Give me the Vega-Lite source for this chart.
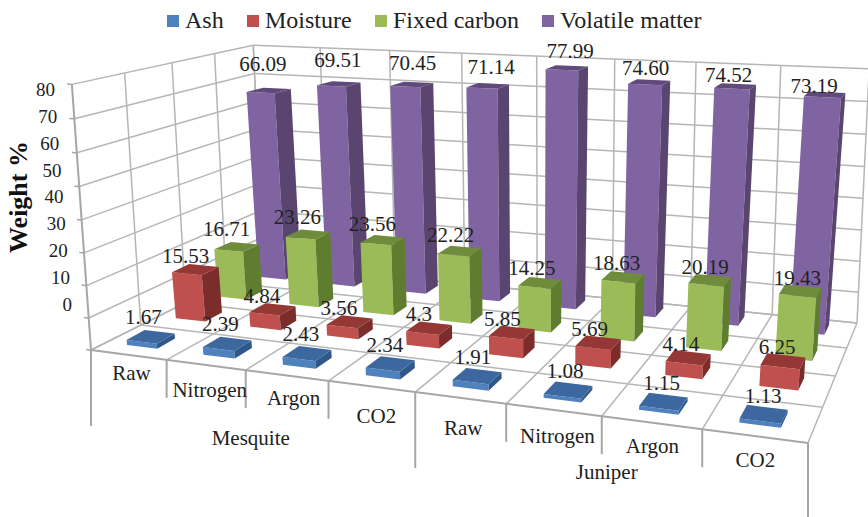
{
  "$schema": "https://vega.github.io/schema/vega-lite/v6.json",
  "width": 868,
  "height": 517,
  "padding": 0,
  "autosize": {"type": "none"},
  "background": "white",
  "config": {"view": {"stroke": null}},
  "datasets": {
    "composition": [
      {"group": "Mesquite", "sample": "Raw", "component": "Volatile matter", "value": 66.09, "label": "66.09"},
      {"group": "Mesquite", "sample": "Nitrogen", "component": "Volatile matter", "value": 69.51, "label": "69.51"},
      {"group": "Mesquite", "sample": "Argon", "component": "Volatile matter", "value": 70.45, "label": "70.45"},
      {"group": "Mesquite", "sample": "CO2", "component": "Volatile matter", "value": 71.14, "label": "71.14"},
      {"group": "Juniper", "sample": "Raw", "component": "Volatile matter", "value": 77.99, "label": "77.99"},
      {"group": "Juniper", "sample": "Nitrogen", "component": "Volatile matter", "value": 74.6, "label": "74.60"},
      {"group": "Juniper", "sample": "Argon", "component": "Volatile matter", "value": 74.52, "label": "74.52"},
      {"group": "Juniper", "sample": "CO2", "component": "Volatile matter", "value": 73.19, "label": "73.19"},
      {"group": "Mesquite", "sample": "Raw", "component": "Fixed carbon", "value": 16.71, "label": "16.71"},
      {"group": "Mesquite", "sample": "Nitrogen", "component": "Fixed carbon", "value": 23.26, "label": "23.26"},
      {"group": "Mesquite", "sample": "Argon", "component": "Fixed carbon", "value": 23.56, "label": "23.56"},
      {"group": "Mesquite", "sample": "CO2", "component": "Fixed carbon", "value": 22.22, "label": "22.22"},
      {"group": "Juniper", "sample": "Raw", "component": "Fixed carbon", "value": 14.25, "label": "14.25"},
      {"group": "Juniper", "sample": "Nitrogen", "component": "Fixed carbon", "value": 18.63, "label": "18.63"},
      {"group": "Juniper", "sample": "Argon", "component": "Fixed carbon", "value": 20.19, "label": "20.19"},
      {"group": "Juniper", "sample": "CO2", "component": "Fixed carbon", "value": 19.43, "label": "19.43"},
      {"group": "Mesquite", "sample": "Raw", "component": "Moisture", "value": 15.53, "label": "15.53"},
      {"group": "Mesquite", "sample": "Nitrogen", "component": "Moisture", "value": 4.84, "label": "4.84"},
      {"group": "Mesquite", "sample": "Argon", "component": "Moisture", "value": 3.56, "label": "3.56"},
      {"group": "Mesquite", "sample": "CO2", "component": "Moisture", "value": 4.3, "label": "4.3"},
      {"group": "Juniper", "sample": "Raw", "component": "Moisture", "value": 5.85, "label": "5.85"},
      {"group": "Juniper", "sample": "Nitrogen", "component": "Moisture", "value": 5.69, "label": "5.69"},
      {"group": "Juniper", "sample": "Argon", "component": "Moisture", "value": 4.14, "label": "4.14"},
      {"group": "Juniper", "sample": "CO2", "component": "Moisture", "value": 6.25, "label": "6.25"},
      {"group": "Mesquite", "sample": "Raw", "component": "Ash", "value": 1.67, "label": "1.67"},
      {"group": "Mesquite", "sample": "Nitrogen", "component": "Ash", "value": 2.39, "label": "2.39"},
      {"group": "Mesquite", "sample": "Argon", "component": "Ash", "value": 2.43, "label": "2.43"},
      {"group": "Mesquite", "sample": "CO2", "component": "Ash", "value": 2.34, "label": "2.34"},
      {"group": "Juniper", "sample": "Raw", "component": "Ash", "value": 1.91, "label": "1.91"},
      {"group": "Juniper", "sample": "Nitrogen", "component": "Ash", "value": 1.08, "label": "1.08"},
      {"group": "Juniper", "sample": "Argon", "component": "Ash", "value": 1.15, "label": "1.15"},
      {"group": "Juniper", "sample": "CO2", "component": "Ash", "value": 1.13, "label": "1.13"}
    ],
    "frame": [
      {"family": "levelLeft", "ns": [0, 1, 2, 3, 4, 5, 6, 7, 8]},
      {"family": "levelBack", "ns": [0, 1, 2, 3, 4, 5, 6, 7, 8]},
      {"family": "uprightBack", "ns": [0, 1, 2, 3, 4, 5, 6, 7, 8]},
      {"family": "uprightLeft", "ns": [1, 2, 3, 4]},
      {"family": "depth", "ns": [0, 1, 2, 3, 4, 5, 6, 7, 8]},
      {"family": "across", "ns": [1, 2, 3, 4]},
      {"family": "stub", "ns": [0, 1, 2, 3, 4, 5, 6, 7, 8]},
      {"family": "axisLeft", "ns": [0]},
      {"family": "axisFront", "ns": [0]},
      {"family": "drop", "ns": [0, 1, 2, 3, 4, 5, 6, 7, 8]}
    ],
    "ticks": [
      {"tick": 0}, {"tick": 10}, {"tick": 20}, {"tick": 30}, {"tick": 40},
      {"tick": 50}, {"tick": 60}, {"tick": 70}, {"tick": 80}
    ],
    "categories": [
      {"slot": 0, "name": "Raw"}, {"slot": 1, "name": "Nitrogen"},
      {"slot": 2, "name": "Argon"}, {"slot": 3, "name": "CO2"},
      {"slot": 4, "name": "Raw"}, {"slot": 5, "name": "Nitrogen"},
      {"slot": 6, "name": "Argon"}, {"slot": 7, "name": "CO2"}
    ],
    "groups": [
      {"slot": 1.5, "name": "Mesquite"},
      {"slot": 5.5, "name": "Juniper"}
    ],
    "title": [{"name": "Weight %"}]
  },
  "layer": [
    {
      "data": {"name": "frame"},
      "transform": [
        {"flatten": ["ns"], "as": ["n"]},
        {"calculate": "[0,1]", "as": "end"},
        {"flatten": ["end"]},
        {"calculate": "datum.family + '-' + datum.n", "as": "id"},
        {"calculate": "datum.family==='levelBack'||datum.family==='across'||datum.family==='axisFront'?datum.end:datum.family==='uprightBack'||datum.family==='depth'||datum.family==='drop'?datum.n/8:datum.family==='stub'?0.008*datum.end-0.008:0", "as": "cu"},
        {"calculate": "datum.family==='levelLeft'||datum.family==='depth'?datum.end:datum.family==='levelBack'||datum.family==='uprightBack'?1:datum.family==='uprightLeft'||datum.family==='across'?datum.n/4:0", "as": "cv"},
        {"calculate": "datum.family==='levelLeft'||datum.family==='levelBack'||datum.family==='stub'?datum.n/8:datum.family==='uprightBack'||datum.family==='uprightLeft'||datum.family==='axisLeft'?datum.end:0", "as": "ct"},
        {"calculate": "1-0.17445*datum.cu+0.22146*datum.cv-0.04*datum.ct", "as": "w"},
        {"calculate": "(91+576.04*datum.cu+230.24*datum.cv-22*datum.ct)/datum.w", "as": "px"},
        {"calculate": "(350+15.72*datum.cu-27.53*datum.cv-269*datum.ct)/datum.w+(datum.family==='drop'?datum.end*(datum.n%4===0?76:38):0)", "as": "py"}
      ],
      "mark": {"type": "line", "clip": false},
      "encoding": {
        "x": {"field": "px", "type": "quantitative", "scale": {"domain": [0, 868], "range": [0, 868]}, "axis": null},
        "y": {"field": "py", "type": "quantitative", "scale": {"domain": [0, 517], "range": [0, 517]}, "axis": null},
        "detail": {"field": "id"},
        "order": {"field": "end"},
        "stroke": {"condition": {"test": "datum.family==='drop'||datum.family==='axisLeft'||datum.family==='axisFront'||datum.family==='stub'", "value": "#a6a6a6"}, "value": "#b6b6b6"},
        "strokeWidth": {"condition": {"test": "datum.family==='drop'||datum.family==='axisLeft'||datum.family==='axisFront'", "value": 2}, "value": 1.5}
      }
    },
    {
      "data": {"name": "composition"},
      "transform": [
        {"calculate": "indexof(['Raw','Nitrogen','Argon','CO2'],datum.sample)+(datum.group==='Juniper'?4:0)", "as": "slot"},
        {"calculate": "indexof(['Ash','Moisture','Fixed carbon','Volatile matter'],datum.component)", "as": "row"},
        {"calculate": "datum.value/80", "as": "t"},
        {"calculate": "['front','side','top']", "as": "face"},
        {"flatten": ["face"]},
        {"calculate": "[0,1,2,3]", "as": "corner"},
        {"flatten": ["corner"]},
        {"calculate": "(datum.slot+0.3)/8", "as": "u0"},
        {"calculate": "(datum.slot+0.7)/8", "as": "u1"},
        {"calculate": "(datum.row+0.3)/4+(datum.row>0?0.027:0)", "as": "v0"},
        {"calculate": "(datum.row+0.7)/4+(datum.row>0?0.027:0)", "as": "v1"},
        {"calculate": "datum.face==='side'?datum.u1:(datum.corner===1||datum.corner===2?datum.u1:datum.u0)", "as": "cu"},
        {"calculate": "datum.face==='front'?datum.v0:datum.face==='side'?(datum.corner===1||datum.corner===2?datum.v1:datum.v0):(datum.corner>=2?datum.v1:datum.v0)", "as": "cv"},
        {"calculate": "datum.face==='top'||datum.corner>=2?datum.t:0", "as": "ct"},
        {"calculate": "1-0.17445*datum.cu+0.22146*datum.cv-0.06*datum.ct", "as": "w"},
        {"calculate": "(91+576.04*datum.cu+230.24*datum.cv-32*datum.ct)/datum.w-25*datum.cv*(1-datum.cv)*pow(1-datum.cu,4)", "as": "px"},
        {"calculate": "(350+15.72*datum.cu-27.53*datum.cv-270*datum.ct)/datum.w", "as": "py"},
        {"calculate": "datum.face==='front'?datum.component:datum.component+' '+datum.face", "as": "shade"},
        {"calculate": "datum.row+'-'+datum.slot+'-'+datum.face", "as": "polygon"}
      ],
      "mark": {"type": "line", "strokeWidth": 0},
      "encoding": {
        "x": {"field": "px", "type": "quantitative", "scale": {"domain": [0, 868], "range": [0, 868]}, "axis": null},
        "y": {"field": "py", "type": "quantitative", "scale": {"domain": [0, 517], "range": [0, 517]}, "axis": null},
        "detail": {"field": "polygon"},
        "order": {"field": "corner"},
        "fill": {
          "field": "shade",
          "type": "nominal",
          "scale": {
            "domain": ["Ash", "Moisture", "Fixed carbon", "Volatile matter", "Ash top", "Ash side", "Moisture top", "Moisture side", "Fixed carbon top", "Fixed carbon side", "Volatile matter top", "Volatile matter side"],
            "range": ["#4f81bd", "#c0504d", "#9bbb59", "#8064a2", "#3c689f", "#2f5788", "#953735", "#7b2d2b", "#6f8c3c", "#5f7d2e", "#604a7b", "#5a4570"]
          },
          "legend": {
            "values": ["Ash", "Moisture", "Fixed carbon", "Volatile matter"],
            "orient": "none",
            "legendX": 161,
            "legendY": 9,
            "direction": "horizontal",
            "columns": 4,
            "title": null,
            "symbolType": "square",
            "symbolSize": 144,
            "symbolStrokeWidth": 0,
            "labelFont": "Liberation Serif",
            "labelFontSize": 24,
            "labelColor": "#222222",
            "columnPadding": 17,
            "labelOffset": 0
          }
        }
      }
    },
    {
      "data": {"name": "composition"},
      "transform": [
        {"calculate": "indexof(['Raw','Nitrogen','Argon','CO2'],datum.sample)+(datum.group==='Juniper'?4:0)", "as": "slot"},
        {"calculate": "indexof(['Ash','Moisture','Fixed carbon','Volatile matter'],datum.component)", "as": "row"},
        {"calculate": "(datum.slot+0.5)/8", "as": "cu"},
        {"calculate": "(datum.row+0.5)/4", "as": "cv"},
        {"calculate": "datum.value/80", "as": "ct"},
        {"calculate": "1-0.17445*datum.cu+0.22146*datum.cv-0.06*datum.ct", "as": "w"},
        {"calculate": "(91+576.04*datum.cu+230.24*datum.cv-32*datum.ct)/datum.w+[-10,-10,-11,-3][datum.row]+[10,6,10,5][datum.row]*datum.cu+(datum.row===3?[-1,4,5,7,6,-2,-6,-11][datum.slot]:0)", "as": "px"},
        {"calculate": "(350+15.72*datum.cu-27.53*datum.cv-270*datum.ct)/datum.w+[-19,-15,-19,-28][datum.row]+[2,-1,5,20][datum.row]*datum.cu", "as": "py"}
      ],
      "mark": {"type": "text", "font": "Liberation Serif", "fontSize": 21, "color": "#222222", "baseline": "middle", "align": "center"},
      "encoding": {
        "x": {"field": "px", "type": "quantitative", "scale": {"domain": [0, 868], "range": [0, 868]}, "axis": null},
        "y": {"field": "py", "type": "quantitative", "scale": {"domain": [0, 517], "range": [0, 517]}, "axis": null},
        "text": {"field": "label"}
      }
    },
    {
      "data": {"name": "ticks"},
      "transform": [
        {"calculate": "72-0.2125*datum.tick", "as": "px"},
        {"calculate": "305-2.69*datum.tick", "as": "py"}
      ],
      "mark": {"type": "text", "font": "Liberation Serif", "fontSize": 19, "color": "#222222", "baseline": "middle", "align": "right"},
      "encoding": {
        "x": {"field": "px", "type": "quantitative", "scale": {"domain": [0, 868], "range": [0, 868]}, "axis": null},
        "y": {"field": "py", "type": "quantitative", "scale": {"domain": [0, 517], "range": [0, 517]}, "axis": null},
        "text": {"field": "tick"}
      }
    },
    {
      "data": {"name": "categories"},
      "transform": [
        {"calculate": "(datum.slot+0.5)/8", "as": "cu"},
        {"calculate": "1-0.17445*datum.cu", "as": "w"},
        {"calculate": "(91+576.04*datum.cu)/datum.w+[3,4,7,5,3,4,1,1][datum.slot]", "as": "px"},
        {"calculate": "(350+15.72*datum.cu)/datum.w+[19,26,24,31,31,27,24,25][datum.slot]", "as": "py"}
      ],
      "mark": {"type": "text", "font": "Liberation Serif", "fontSize": 21, "color": "#222222", "baseline": "middle", "align": "center"},
      "encoding": {
        "x": {"field": "px", "type": "quantitative", "scale": {"domain": [0, 868], "range": [0, 868]}, "axis": null},
        "y": {"field": "py", "type": "quantitative", "scale": {"domain": [0, 517], "range": [0, 517]}, "axis": null},
        "text": {"field": "name"}
      }
    },
    {
      "data": {"name": "groups"},
      "transform": [
        {"calculate": "(datum.slot+0.5)/8", "as": "cu"},
        {"calculate": "1-0.17445*datum.cu", "as": "w"},
        {"calculate": "(91+576.04*datum.cu)/datum.w+5", "as": "px"},
        {"calculate": "(350+15.72*datum.cu)/datum.w+(datum.slot<4?69:57)", "as": "py"}
      ],
      "mark": {"type": "text", "font": "Liberation Serif", "fontSize": 21, "color": "#222222", "baseline": "middle", "align": "center"},
      "encoding": {
        "x": {"field": "px", "type": "quantitative", "scale": {"domain": [0, 868], "range": [0, 868]}, "axis": null},
        "y": {"field": "py", "type": "quantitative", "scale": {"domain": [0, 517], "range": [0, 517]}, "axis": null},
        "text": {"field": "name"}
      }
    },
    {
      "data": {"name": "title"},
      "transform": [
        {"calculate": "19", "as": "px"},
        {"calculate": "197", "as": "py"}
      ],
      "mark": {"type": "text", "font": "Liberation Serif", "fontSize": 26, "fontWeight": "bold", "color": "#111111", "angle": 270, "baseline": "middle", "align": "center"},
      "encoding": {
        "x": {"field": "px", "type": "quantitative", "scale": {"domain": [0, 868], "range": [0, 868]}, "axis": null},
        "y": {"field": "py", "type": "quantitative", "scale": {"domain": [0, 517], "range": [0, 517]}, "axis": null},
        "text": {"field": "name"}
      }
    }
  ]
}
